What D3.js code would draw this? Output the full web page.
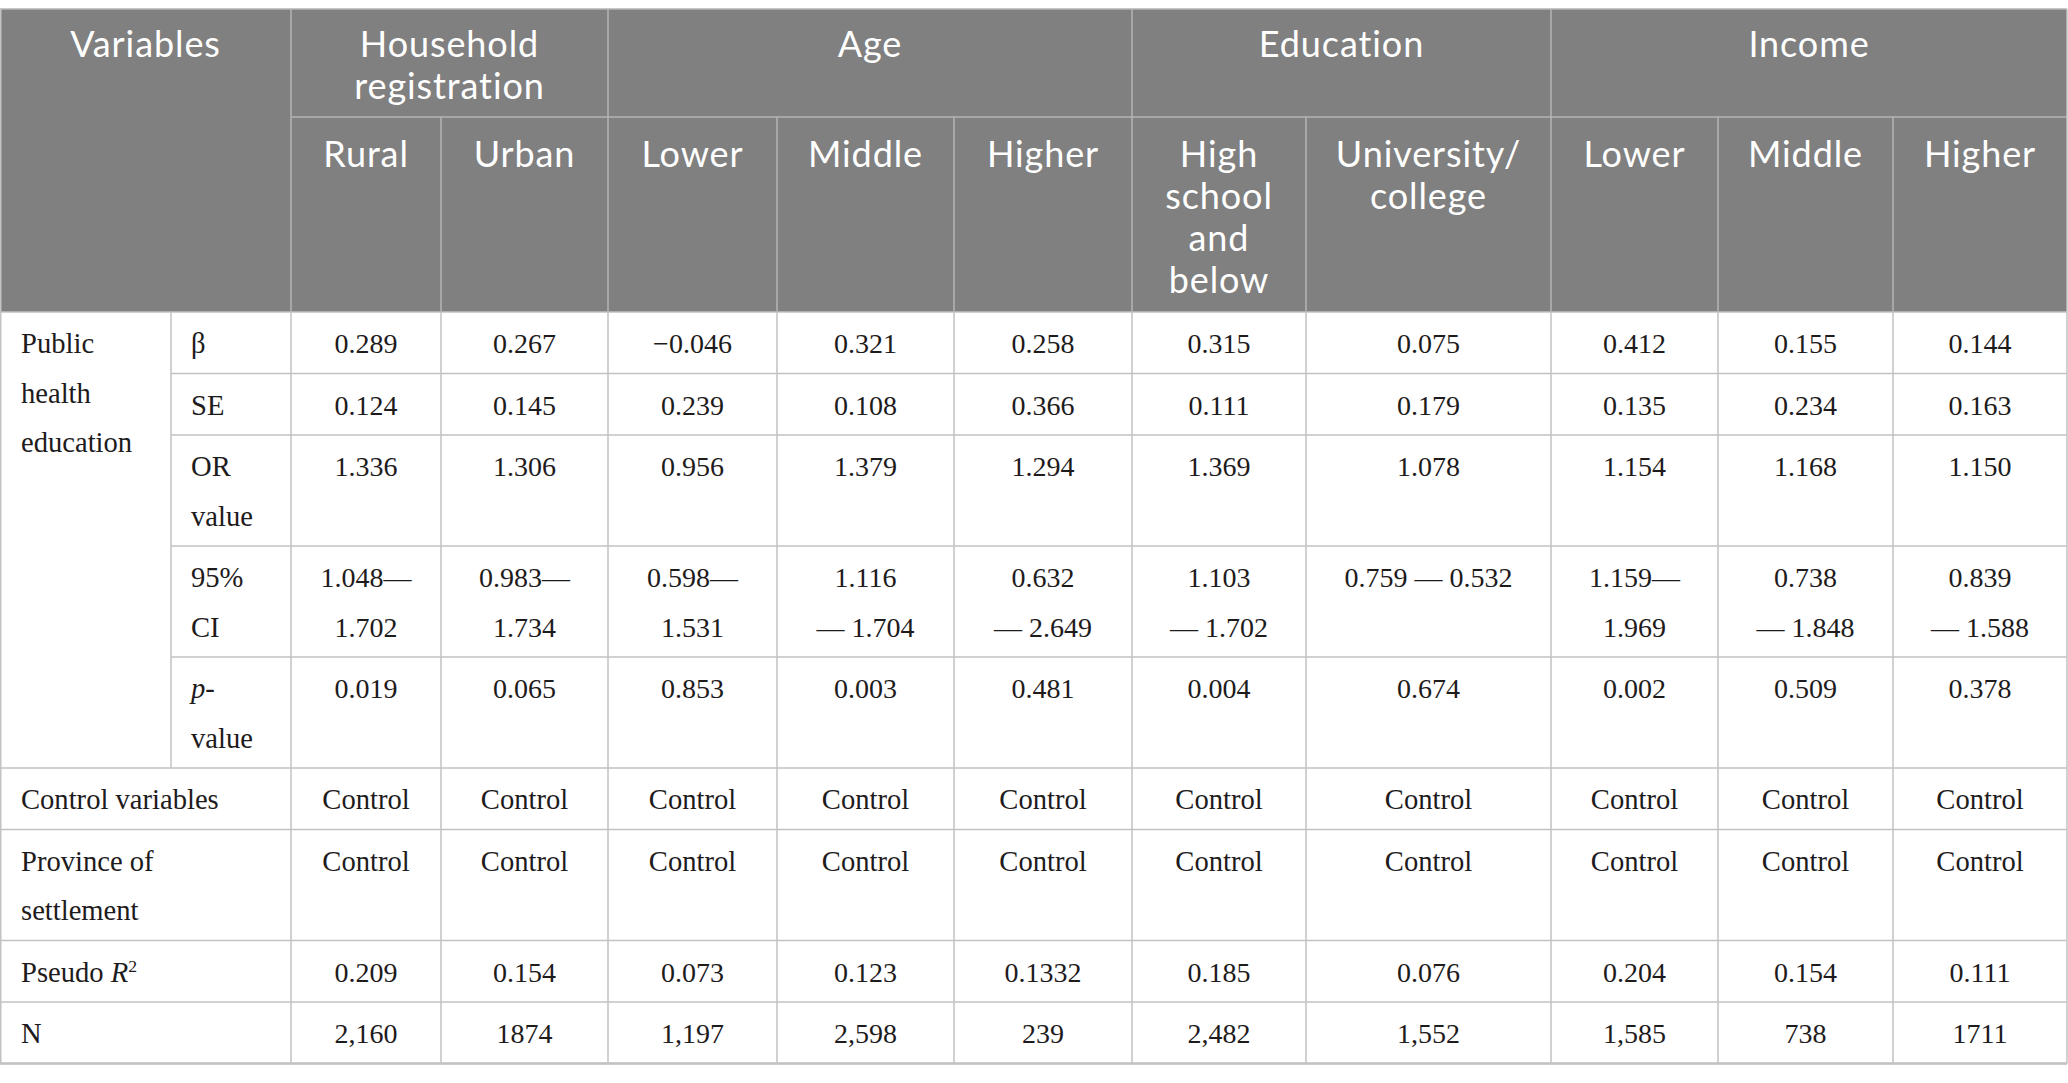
<!DOCTYPE html>
<html>
<head>
<meta charset="utf-8">
<script src="https://cdn.jsdelivr.net/npm/d3@7"></script>
<style>
html,body{margin:0;padding:0;background:#fff;}
svg{display:block;}
</style>
</head>
<body>
<script>
// ---------------- DATA ----------------
const cornerLabel = ["Variables"];
const groupLabels = [["Household", "registration"], ["Age"], ["Education"], ["Income"]];
const groupSpans = [2, 3, 2, 3];
const subgroupLabels = [
  ["Rural"], ["Urban"],
  ["Lower"], ["Middle"], ["Higher"],
  ["High", "school", "and", "below"], ["University/", "college"],
  ["Lower"], ["Middle"], ["Higher"]
];
const blockLabel = ["Public", "health", "education"];
const statLabels = [["β"], ["SE"], ["OR", "value"], ["95%", "CI"], ["_p_-", "value"]];
const beta    = ["0.289", "0.267", "\u22120.046", "0.321", "0.258", "0.315", "0.075", "0.412", "0.155", "0.144"];
const se      = ["0.124", "0.145", "0.239", "0.108", "0.366", "0.111", "0.179", "0.135", "0.234", "0.163"];
const orValue = ["1.336", "1.306", "0.956", "1.379", "1.294", "1.369", "1.078", "1.154", "1.168", "1.150"];
const ci95 = [
  ["1.048\u2014", "1.702"], ["0.983\u2014", "1.734"], ["0.598\u2014", "1.531"],
  ["1.116", "\u2014 1.704"], ["0.632", "\u2014 2.649"], ["1.103", "\u2014 1.702"],
  ["0.759 \u2014 0.532"], ["1.159\u2014", "1.969"], ["0.738", "\u2014 1.848"], ["0.839", "\u2014 1.588"]
];
const pValue  = ["0.019", "0.065", "0.853", "0.003", "0.481", "0.004", "0.674", "0.002", "0.509", "0.378"];
const otherLabels = [["Control variables"], ["Province of", "settlement"], ["Pseudo _R_^2"], ["N"]];
const controlVars = ["Control", "Control", "Control", "Control", "Control", "Control", "Control", "Control", "Control", "Control"];
const provinceCtl = ["Control", "Control", "Control", "Control", "Control", "Control", "Control", "Control", "Control", "Control"];
const pseudoR2 = ["0.209", "0.154", "0.073", "0.123", "0.1332", "0.185", "0.076", "0.204", "0.154", "0.111"];
const nObs     = ["2,160", "1874", "1,197", "2,598", "239", "2,482", "1,552", "1,585", "738", "1711"];

// ---------------- LAYOUT ----------------
const W = 2068, H = 1083;
const colWidths = [171, 120, 150, 167, 169, 177, 178, 174, 245, 167, 175, 174];
const tableTop = 9;
const headRow1H = 108, headRow2H = 195;
const headFirstBase = 48, headSubFirstBase = 50, headLineH = 42;
const bodyPad = 12, bodyLineH = 49.5, bodyFirstBase = 41, textPadL = 21;
const headFill = "#808080", gridColor = "#c2c2c2", headGrid = "#b4b4b4";
const bodyFont = "'Liberation Serif','Times New Roman',serif";
const headFont = "Lato,'Open Sans',sans-serif";
const bodyColor = "#1e1b1c";

const edges = [0, ...d3.cumsum(colWidths)];
const x = d3.scaleOrdinal().domain(d3.range(edges.length)).range(edges);

// body rows
const valueRows = [beta, se, orValue, ci95, pValue, controlVars, provinceCtl, pseudoR2, nObs];
const rowLabels = [...statLabels, ...otherLabels];
const lineCount = valueRows.map((vals, i) => {
  const lab = rowLabels[i].length;
  const v = d3.max(vals, d => Array.isArray(d) ? d.length : 1);
  return Math.max(lab, v);
});
const rowHeights = lineCount.map(n => bodyPad + bodyLineH * n);
const headBottom = tableTop + headRow1H + headRow2H;
const rowTops = [headBottom, ...d3.cumsum(rowHeights).map(h => headBottom + h)];
const y = d3.scaleOrdinal().domain(d3.range(rowTops.length)).range(rowTops);
const tableBottom = rowTops[rowTops.length - 1];

const svg = d3.select("body").append("svg").attr("width", W).attr("height", H);

// header background
svg.append("rect").attr("x", x(0)).attr("y", tableTop)
  .attr("width", x(edges.length - 1) - x(0)).attr("height", headRow1H + headRow2H)
  .attr("fill", headFill);

// ---- rich text helper: _italic_ and ^superscript
function addLine(textSel, str, fontSize) {
  const parts = [];
  const re = /_(.*?)_|\^(\S+)|([^_^]+)/g;
  let m;
  while ((m = re.exec(str)) !== null) {
    if (m[1] !== undefined) parts.push({ t: m[1], it: true });
    else if (m[2] !== undefined) parts.push({ t: m[2], sup: true });
    else parts.push({ t: m[3] });
  }
  parts.forEach(p => {
    const ts = textSel.append("tspan").text(p.t);
    if (p.it) ts.attr("font-style", "italic");
    if (p.sup) ts.attr("font-size", fontSize * 0.62).attr("baseline-shift", "super");
  });
}

function cellText(lines, cx, top, firstBase, lineH, opts) {
  const g = svg.append("g");
  lines.forEach((ln, i) => {
    const t = g.append("text")
      .attr("x", cx).attr("y", top + firstBase + i * lineH)
      .attr("text-anchor", opts.anchor)
      .attr("font-family", opts.font).attr("font-size", opts.size)
      .attr("font-weight", opts.weight || 400)
      .attr("letter-spacing", opts.ls || 0)
      .attr("fill", opts.color);
    addLine(t, ln, opts.size);
  });
}

const headOpts = { anchor: "middle", font: headFont, size: 36, color: "#ffffff", weight: 400, ls: 0.9 };
const bodyMid = { anchor: "middle", font: bodyFont, size: 28, color: bodyColor };
const bodyLeft = { anchor: "start", font: bodyFont, size: 28.6, color: bodyColor };

// header texts
cellText(cornerLabel, (x(0) + x(2)) / 2, tableTop, headFirstBase, headLineH, headOpts);
let c = 2;
const groupStarts = [];
groupLabels.forEach((lab, gi) => {
  groupStarts.push(c);
  const c2 = c + groupSpans[gi];
  cellText(lab, (x(c) + x(c2)) / 2, tableTop, headFirstBase, headLineH, headOpts);
  c = c2;
});
subgroupLabels.forEach((lab, i) => {
  const ci = i + 2;
  cellText(lab, (x(ci) + x(ci + 1)) / 2, tableTop + headRow1H, headSubFirstBase, headLineH, headOpts);
});

// body texts
cellText(blockLabel, x(0) + textPadL, y(0), bodyFirstBase, bodyLineH, bodyLeft);
rowLabels.forEach((lab, r) => {
  const lx = r < statLabels.length ? x(1) + textPadL - 1 : x(0) + textPadL;
  cellText(lab, lx, y(r), bodyFirstBase, bodyLineH, bodyLeft);
});
valueRows.forEach((vals, r) => {
  vals.forEach((v, i) => {
    const ci = i + 2;
    const opts = /^[0-9\u2212\u2014 .,]+$/.test((Array.isArray(v) ? v.join("") : v)) ? bodyMid : Object.assign({}, bodyMid, { size: 28.6 });
    cellText(Array.isArray(v) ? v : [v], (x(ci) + x(ci + 1)) / 2, y(r), bodyFirstBase, bodyLineH, opts);
  });
});

// ---------------- GRID ----------------
const hLines = [];
const vLines = [];
// header
hLines.push({ x1: x(0), x2: x(edges.length - 1), y: tableTop, col: headGrid });
hLines.push({ x1: x(2), x2: x(edges.length - 1), y: tableTop + headRow1H, col: headGrid });
vLines.push({ x: x(2), y1: tableTop, y2: headBottom, col: headGrid });
groupStarts.slice(1).forEach(gc => vLines.push({ x: x(gc), y1: tableTop, y2: headBottom, col: headGrid }));
d3.range(3, edges.length - 1).forEach(ci => {
  if (!groupStarts.includes(ci)) vLines.push({ x: x(ci), y1: tableTop + headRow1H, y2: headBottom, col: headGrid });
});
// body
hLines.push({ x1: x(0), x2: x(edges.length - 1), y: headBottom, col: gridColor });
rowTops.slice(1).forEach((yy, k) => {
  const inner = k < statLabels.length - 1;
  hLines.push({ x1: inner ? x(1) : x(0), x2: x(edges.length - 1), y: yy, col: gridColor });
});
d3.range(2, edges.length - 1).forEach(ci => vLines.push({ x: x(ci), y1: headBottom, y2: tableBottom, col: gridColor }));
vLines.push({ x: x(1), y1: headBottom, y2: y(statLabels.length), col: gridColor });
vLines.push({ x: x(0) + 0.75, y1: tableTop, y2: tableBottom, col: gridColor });
vLines.push({ x: x(edges.length - 1), y1: tableTop, y2: tableBottom, col: gridColor });

svg.append("g").selectAll("line.h").data(hLines).join("line")
  .attr("x1", d => d.x1).attr("x2", d => d.x2).attr("y1", d => d.y).attr("y2", d => d.y)
  .attr("stroke", d => d.col).attr("stroke-width", 1.5);
svg.append("g").selectAll("line.v").data(vLines).join("line")
  .attr("x1", d => d.x).attr("x2", d => d.x).attr("y1", d => d.y1).attr("y2", d => d.y2)
  .attr("stroke", d => d.col).attr("stroke-width", 1.5);
// bottom border a bit heavier
svg.append("line").attr("x1", x(0)).attr("x2", x(edges.length - 1))
  .attr("y1", tableBottom).attr("y2", tableBottom)
  .attr("stroke", gridColor).attr("stroke-width", 2.5);
</script>
</body>
</html>
